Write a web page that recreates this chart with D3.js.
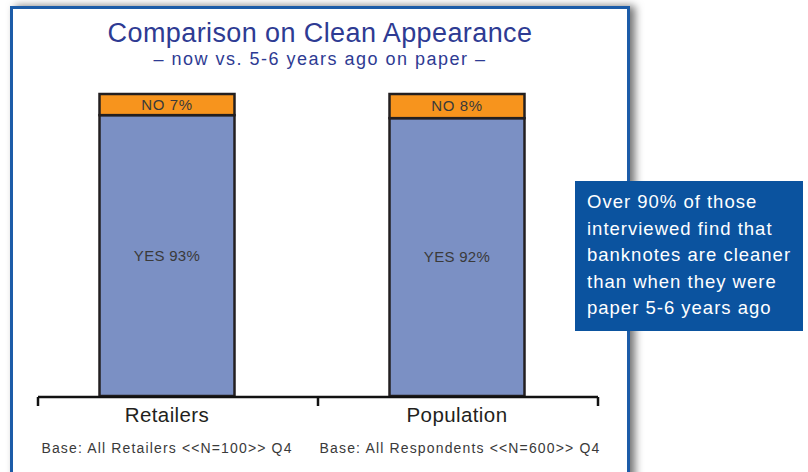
<!DOCTYPE html>
<html>
<head>
<meta charset="utf-8">
<script src="https://cdn.jsdelivr.net/npm/d3@7"></script>
<style>
  body { margin: 0; background: #fff; }
  svg { display: block; font-family: "Liberation Sans", Arial, sans-serif; }
</style>
</head>
<body>
<svg id="chart"></svg>
<script>
const width = 808;
const height = 472;

const categories = ['Retailers', 'Population'];
const yesValues = [93, 92];
const noValues = [7, 8];
const baseLabels = ['Base: All Retailers <<N=100>> Q4', 'Base: All Respondents <<N=600>> Q4'];
const calloutLines = ['Over 90% of those', 'interviewed find that', 'banknotes are cleaner', 'than when they were', 'paper 5-6 years ago'];

const svg = d3.select('#chart').attr('width', width).attr('height', height);

// soft shadow for the frame
const defs = svg.append('defs');
const shadow = defs.append('filter').attr('id', 'shadow')
    .attr('x', '-5%').attr('y', '-5%').attr('width', '115%').attr('height', '115%');
shadow.append('feDropShadow')
    .attr('dx', 5).attr('dy', 0).attr('stdDeviation', 4)
    .attr('flood-color', '#000').attr('flood-opacity', 0.55);

svg.append('rect')
    .attr('x', 11.5).attr('y', 7.5)
    .attr('width', 617).attr('height', 490)
    .attr('fill', '#fff')
    .attr('stroke', '#1a5ca8')
    .attr('stroke-width', 3)
    .attr('filter', 'url(#shadow)');

// titles
svg.append('text')
    .attr('x', 320).attr('y', 42)
    .attr('text-anchor', 'middle')
    .attr('font-size', 27)
    .attr('letter-spacing', 0.4)
    .attr('fill', '#2e3b93')
    .text('Comparison on Clean Appearance');

svg.append('text')
    .attr('x', 320).attr('y', 65)
    .attr('text-anchor', 'middle')
    .attr('font-size', 18)
    .attr('letter-spacing', 1.5)
    .attr('fill', '#2e3b93')
    .text('\u2013 now vs. 5-6 years ago on paper \u2013');

// scales
const x = d3.scaleBand().domain(categories).range([22, 602]);
const y = d3.scaleLinear().domain([0, 100]).range([396, 94]);
const barWidth = 135;

const groups = svg.selectAll('.bar')
    .data(categories)
    .enter().append('g')
    .attr('class', 'bar');

groups.append('rect')
    .attr('x', d => x(d) + x.bandwidth() / 2 - barWidth / 2)
    .attr('y', (d, i) => y(yesValues[i]))
    .attr('width', barWidth)
    .attr('height', (d, i) => y(0) - y(yesValues[i]))
    .attr('fill', '#7b90c4')
    .attr('stroke', '#231f20')
    .attr('stroke-width', 2.5);

groups.append('rect')
    .attr('x', d => x(d) + x.bandwidth() / 2 - barWidth / 2)
    .attr('y', (d, i) => y(yesValues[i] + noValues[i]))
    .attr('width', barWidth)
    .attr('height', (d, i) => y(yesValues[i]) - y(yesValues[i] + noValues[i]))
    .attr('fill', '#f7941d')
    .attr('stroke', '#231f20')
    .attr('stroke-width', 2.5);

groups.append('text')
    .attr('x', d => x(d) + x.bandwidth() / 2)
    .attr('y', (d, i) => (y(yesValues[i]) + y(yesValues[i] + noValues[i])) / 2 + 5)
    .attr('text-anchor', 'middle')
    .attr('font-size', 15)
    .attr('letter-spacing', 0.6)
    .attr('fill', '#3a3a3a')
    .text((d, i) => `NO ${noValues[i]}%`);

groups.append('text')
    .attr('x', d => x(d) + x.bandwidth() / 2)
    .attr('y', (d, i) => (y(0) + y(yesValues[i])) / 2 + 5)
    .attr('text-anchor', 'middle')
    .attr('font-size', 15)
    .attr('letter-spacing', 0.3)
    .attr('fill', '#3a3a3a')
    .text((d, i) => `YES ${yesValues[i]}%`);

// axis line with ticks at the band edges
const axisY = 397;
const edges = [38, 318, 598];
svg.append('line')
    .attr('x1', edges[0]).attr('x2', edges[2])
    .attr('y1', axisY).attr('y2', axisY)
    .attr('stroke', '#111').attr('stroke-width', 2.5);
svg.selectAll('.tick')
    .data(edges)
    .enter().append('line')
    .attr('class', 'tick')
    .attr('x1', d => d).attr('x2', d => d)
    .attr('y1', axisY).attr('y2', axisY + 9)
    .attr('stroke', '#111').attr('stroke-width', 2.5);

svg.selectAll('.cat-label')
    .data(categories)
    .enter().append('text')
    .attr('class', 'cat-label')
    .attr('x', d => x(d) + x.bandwidth() / 2)
    .attr('y', 422)
    .attr('text-anchor', 'middle')
    .attr('font-size', 20.5)
    .attr('letter-spacing', 0.4)
    .attr('fill', '#231f20')
    .text(d => d);

svg.selectAll('.base-label')
    .data(baseLabels)
    .enter().append('text')
    .attr('class', 'base-label')
    .attr('x', (d, i) => x(categories[i]) + x.bandwidth() / 2 + i * 3)
    .attr('y', 453)
    .attr('text-anchor', 'middle')
    .attr('font-size', 14)
    .attr('letter-spacing', 1.15)
    .attr('fill', '#3a3a3a')
    .text(d => d);

// callout box
svg.append('rect')
    .attr('x', 575).attr('y', 181)
    .attr('width', 228).attr('height', 150)
    .attr('fill', '#0b539f');

svg.append('g')
    .selectAll('text')
    .data(calloutLines)
    .enter().append('text')
    .attr('x', 587)
    .attr('y', (d, i) => 208 + i * 26.5)
    .attr('font-size', 18.5)
    .attr('letter-spacing', 1.0)
    .attr('fill', '#fff')
    .text(d => d);
</script>
</body>
</html>
